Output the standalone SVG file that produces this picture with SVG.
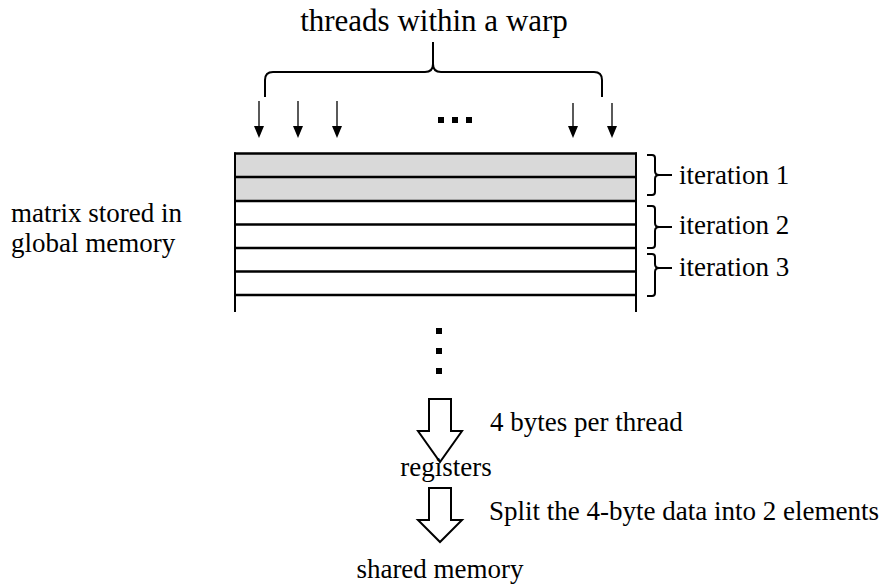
<svg xmlns="http://www.w3.org/2000/svg" width="890" height="587" viewBox="0 0 890 587">
<defs>
<style>
text{font-family:"Liberation Serif","Times New Roman",serif;fill:#000;}
.t{font-size:27px;}
.title{font-size:31px;}
.brace{fill:none;stroke:#000;stroke-width:2;stroke-linejoin:round;}
.row{stroke:#000;stroke-width:2.5;}
.side{stroke:#000;stroke-width:2;}
.thr{stroke:#000;stroke-width:1.3;}
.blk{fill:#fff;stroke:#000;stroke-width:2;stroke-linejoin:miter;}
</style>
</defs>
<g id="title"><text class="title" x="434" y="31" text-anchor="middle">threads within a warp</text></g>
<g id="warp-brace"><path class="brace" d="M265,97 L265,80 Q265,72 273,72 L425,72 Q433,72 433,64 L433,42 M602,97 L602,80 Q602,72 594,72 L441,72 Q433,72 433,64"/></g>
<g id="threads">
<line class="thr" x1="259" y1="101" x2="259" y2="126"/><path d="M254,126 L264,126 L259,138 Z"/>
<line class="thr" x1="298" y1="101" x2="298" y2="126"/><path d="M293,126 L303,126 L298,138 Z"/>
<line class="thr" x1="337" y1="101" x2="337" y2="126"/><path d="M332,126 L342,126 L337,138 Z"/>
<line class="thr" x1="573" y1="103" x2="573" y2="126"/><path d="M568,126 L578,126 L573,138 Z"/>
<line class="thr" x1="612" y1="103" x2="612" y2="126"/><path d="M607,126 L617,126 L612,138 Z"/>
<rect x="438" y="117" width="6" height="6"/><rect x="452" y="117" width="6" height="6"/><rect x="466" y="117" width="6" height="6"/>
</g>
<g id="matrix">
<rect x="235" y="153.5" width="401" height="47.5" fill="#d9d9d9"/>
<line class="side" x1="235" y1="152.5" x2="235" y2="312"/>
<line class="side" x1="636" y1="152.5" x2="636" y2="312"/>
<line class="row" x1="234" y1="153.5" x2="637" y2="153.5"/>
<line class="row" x1="234" y1="177" x2="637" y2="177"/>
<line class="row" x1="234" y1="201" x2="637" y2="201"/>
<line class="row" x1="234" y1="224.5" x2="637" y2="224.5"/>
<line class="row" x1="234" y1="248" x2="637" y2="248"/>
<line class="row" x1="234" y1="271.5" x2="637" y2="271.5"/>
<line class="row" x1="234" y1="295" x2="637" y2="295"/>
</g>
<g id="matrix-label">
<text class="t" x="11" y="222">matrix stored in</text>
<text class="t" x="11" y="252">global memory</text>
</g>
<g id="iter1"><path class="brace" d="M647,155 L652,155 Q655,155 655,158 L655,171 Q655,175 659,175 L672,175 M659,175 Q655,175 655,179 L655,192 Q655,195 652,195 L647,195"/><text class="t" x="679" y="184">iteration 1</text></g>
<g id="iter2"><path class="brace" d="M647,206 L652,206 Q655,206 655,209 L655,223 Q655,227 659,227 L672,227 M659,227 Q655,227 655,231 L655,245 Q655,248 652,248 L647,248"/><text class="t" x="679" y="234">iteration 2</text></g>
<g id="iter3"><path class="brace" d="M647,254 L652,254 Q655,254 655,257 L655,264 Q655,268 659,268 L672,268 M659,268 Q655,268 655,272 L655,293 Q655,296 652,296 L647,296"/><text class="t" x="679" y="276">iteration 3</text></g>
<g id="vdots"><rect x="436" y="328" width="6" height="6"/><rect x="436" y="348" width="6" height="6"/><rect x="436" y="368" width="6" height="6"/></g>
<g id="connectors">
<path class="blk" d="M429,399 L451,399 L451,431 L462,431 L440,462 L418,431 L429,431 Z"/>
<path class="blk" d="M429,488 L451,488 L451,520 L462,520 L440,542 L418,520 L429,520 Z"/>
</g>
<g id="registers"><text class="t" x="446" y="476" text-anchor="middle">registers</text></g>
<g id="shared"><text class="t" x="440" y="578" text-anchor="middle">shared memory</text></g>
<g id="labels">
<text class="t" x="490" y="431">4 bytes per thread</text>
<text class="t" x="489" y="520">Split the 4-byte data into 2 elements</text>
</g>
</svg>
